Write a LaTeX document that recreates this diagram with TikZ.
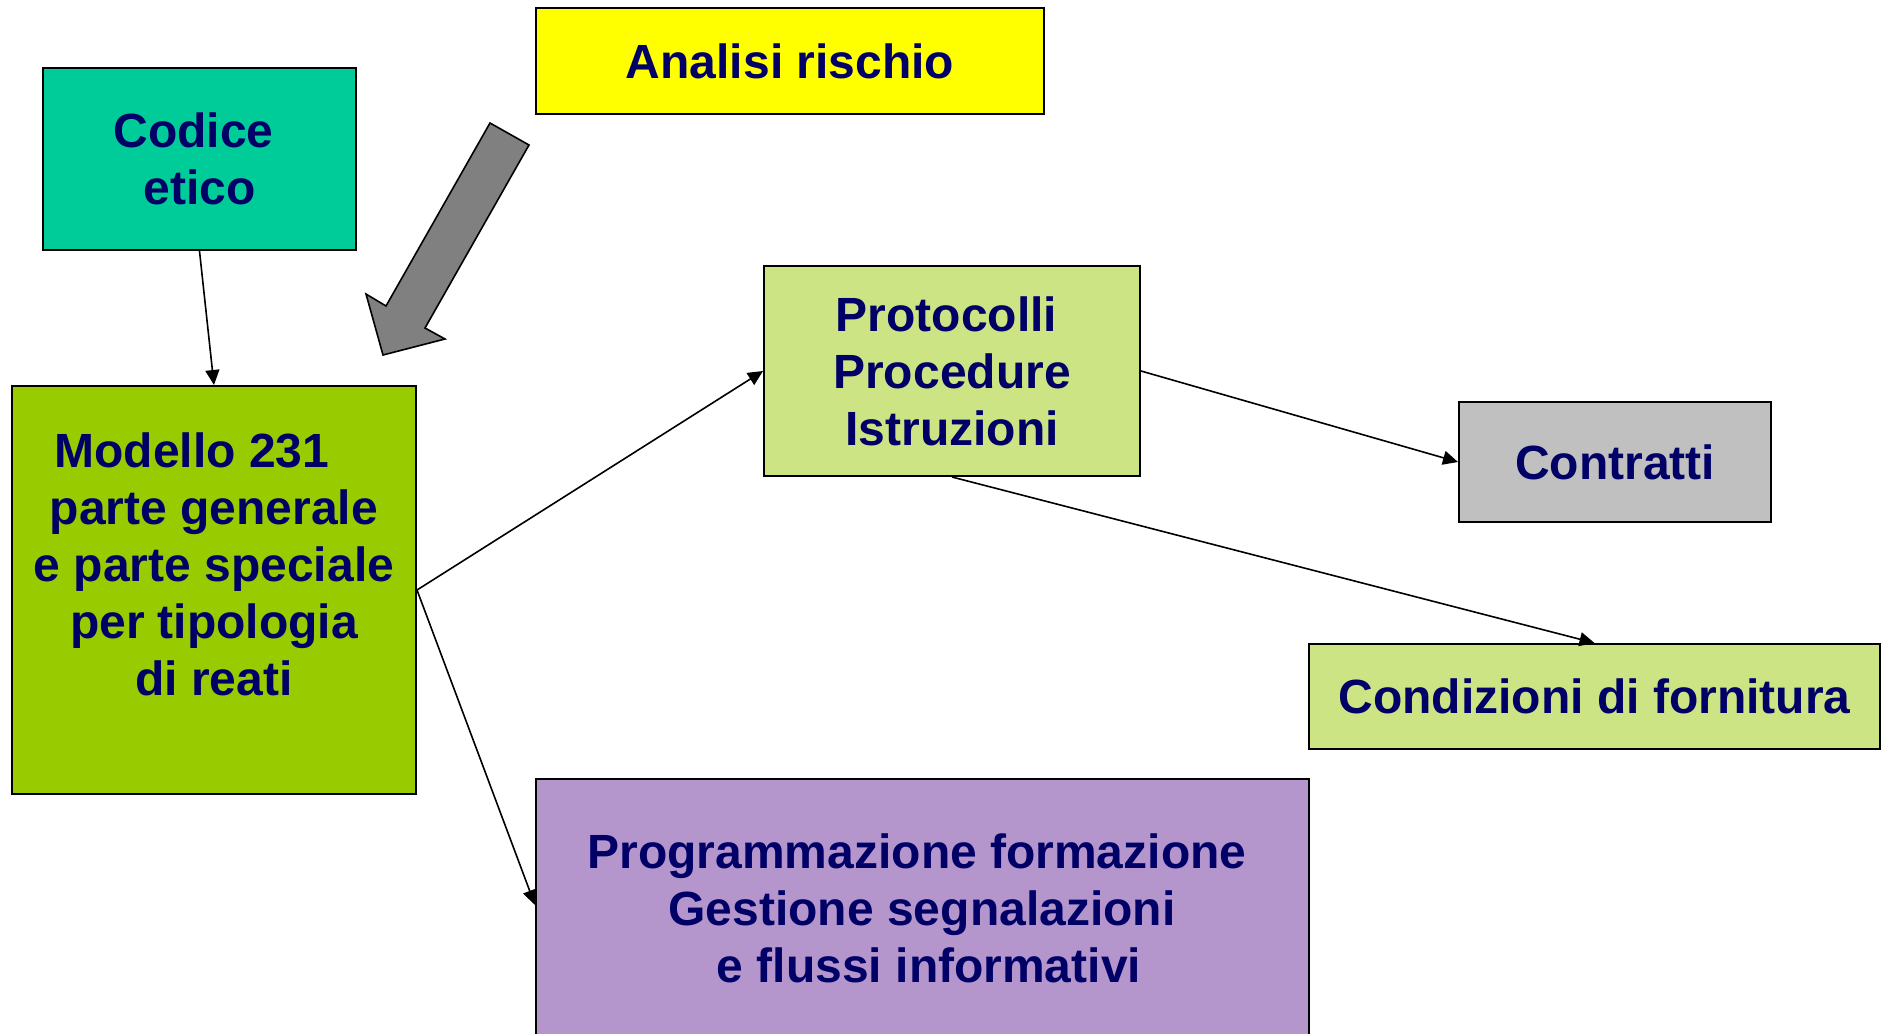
\documentclass[tikz,border=0pt]{standalone}
\usepackage{fontspec}
\setmainfont{Liberation Sans}
\usetikzlibrary{arrows.meta}
\definecolor{navy}{RGB}{0,0,102}
\definecolor{codicec}{RGB}{0,204,153}
\definecolor{modelloc}{RGB}{153,204,0}
\definecolor{analisic}{RGB}{255,255,0}
\definecolor{protoc}{RGB}{204,228,132}
\definecolor{contrc}{RGB}{192,192,192}
\definecolor{purplec}{RGB}{180,150,205}
\definecolor{arrowc}{RGB}{128,128,128}
\begin{document}
\begin{tikzpicture}[x=1pt,y=-1pt,
  box/.style={draw=black, line width=2pt, inner sep=0pt, rectangle},
  txt/.style={text=navy, font=\fontsize{48}{57}\selectfont\bfseries, align=center, inner sep=0pt},
  conn/.style={draw=black, line width=1.6pt, -{Triangle[length=15pt,width=14pt]}}]
\useasboundingbox (0,0) rectangle (1886,1033);
\fill[white] (0,0) rectangle (1886,1033);

\node[box, txt, fill=codicec, minimum width=313pt, minimum height=182pt] (codice) at (199.5,159) {Codice\hspace*{12pt}\\etico};
\node[box, fill=modelloc, minimum width=404pt, minimum height=408pt] (modello) at (214,590) {};
\node[txt] (modtext) at (214,564) {Modello 231\hspace*{44pt}\\parte generale\hspace*{25pt}\\e parte speciale\\per tipologia\hspace*{26pt}\\di reati};
\node[box, txt, fill=analisic, minimum width=508pt, minimum height=106pt] (analisi) at (790,61) {Analisi rischio};
\node[box, txt, fill=protoc, minimum width=376pt, minimum height=210pt] (proto) at (952,371) {Protocolli\hspace*{11pt}\\Procedure\\Istruzioni};
\node[box, txt, fill=contrc, minimum width=312pt, minimum height=120pt] (contratti) at (1615,462) {Contratti};
\node[box, txt, fill=protoc, minimum width=571pt, minimum height=105pt] (condizioni) at (1594.5,696.5) {Condizioni di fornitura};
\node[box, fill=purplec, minimum width=773pt, minimum height=281pt] (purple) at (922.5,919.5) {};
\node[txt] (purptext) at (922,908.5) {Programmazione formazione\hspace*{10pt}\\Gestione segnalazioni\\\hspace*{14pt}e flussi informativi};

\draw[fill=arrowc, draw=black, line width=1.6pt, line join=miter]
  (490,123) -- (529,145) -- (425,328) -- (445,339) -- (383,355) -- (366,294) -- (386,306) -- cycle;

\coordinate (purin) at ([yshift=14.5pt]purple.west);
\draw[conn] (codice.south) -- (modello.north);
\draw[conn] (modello.east) -- (proto.west);
\draw[conn] (modello.east) -- (purin);
\draw[conn] (proto.east) -- (contratti.west);
\draw[conn] (proto.south) -- (condizioni.north);
\end{tikzpicture}
\end{document}
